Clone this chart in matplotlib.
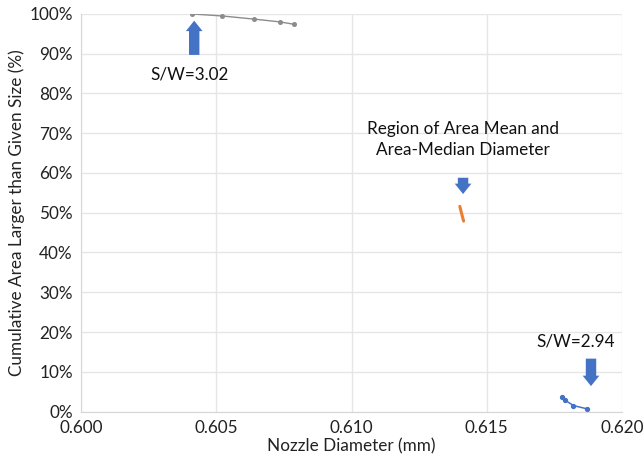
import matplotlib
matplotlib.use("Agg")
import matplotlib.pyplot as plt
from matplotlib.ticker import FuncFormatter

plt.rcParams['font.family'] = ['Lato', 'DejaVu Sans']

# Data
sw302_d = [0.6041, 0.6052, 0.6064, 0.60735, 0.60787]
sw302_c = [100.0, 99.5, 98.7, 98.0, 97.4]

mid_d = [0.61400, 0.61407, 0.61414]
mid_c = [51.6, 49.7, 47.9]

sw294_d = [0.61777, 0.61790, 0.61820, 0.61869]
sw294_c = [3.6, 2.8, 1.5, 0.7]

x_ticks = [0.600, 0.605, 0.610, 0.615, 0.620]
y_ticks = [0, 10, 20, 30, 40, 50, 60, 70, 80, 90, 100]

FS = 12.3

fig = plt.figure(figsize=(6.44, 4.65), dpi=100)
ax = fig.add_axes([0.126, 0.115, 0.840, 0.855])

ax.plot(sw302_d, sw302_c, color='#8c8c8c', lw=1.0, marker='o', ms=2.6)
ax.plot(mid_d, mid_c, color='#ED7D31', lw=2.2, solid_capstyle='round')
ax.plot(sw294_d, sw294_c, color='#4472C4', lw=1.1, marker='o', ms=2.8)

ax.set_xlim(0.600, 0.620)
ax.set_ylim(0, 100)
ax.set_xticks(x_ticks)
ax.set_yticks(y_ticks)
ax.xaxis.set_major_formatter(FuncFormatter(lambda v, p: f"{v:.3f}"))
ax.yaxis.set_major_formatter(FuncFormatter(lambda v, p: f"{v:.0f}%"))
ax.grid(True, color='#e6e6e6', lw=1.0)
ax.set_axisbelow(True)
for s in ['top', 'right']:
    ax.spines[s].set_visible(False)
for s in ['left', 'bottom']:
    ax.spines[s].set_color('#d6d6d6')
ax.tick_params(length=0, labelsize=FS, colors='#222222', pad=6)

ax.set_xlabel('Nozzle Diameter (mm)', fontsize=FS, color='#222222', labelpad=2)
ax.set_ylabel('Cumulative Area Larger than Given Size (%)', fontsize=FS,
              color='#222222', labelpad=3)

arrow_color = '#4472C4'
astyle = 'simple,head_width=0.8,head_length=0.5,tail_width=0.5'

# Arrow up to S/W=3.02
ax.annotate('', xy=(0.60418, 99.0), xytext=(0.60418, 89.0),
            arrowprops=dict(arrowstyle=astyle, color=arrow_color, lw=0,
                            mutation_scale=15))
ax.text(0.6040, 84.7, 'S/W=3.02', ha='center', va='center', fontsize=FS,
        color='#111111')

# Arrow down to region of mean
ax.annotate('', xy=(0.61412, 54.0), xytext=(0.61412, 59.5),
            arrowprops=dict(arrowstyle=astyle, color=arrow_color, lw=0,
                            mutation_scale=15))
ax.text(0.61412, 68.5, 'Region of Area Mean and\nArea-Median Diameter',
        ha='center', va='center', fontsize=FS, color='#111111',
        linespacing=1.4)

# Arrow down to S/W=2.94
ax.annotate('', xy=(0.61885, 5.7), xytext=(0.61885, 14.0),
            arrowprops=dict(arrowstyle=astyle, color=arrow_color, lw=0,
                            mutation_scale=15))
ax.text(0.6183, 17.7, 'S/W=2.94', ha='center', va='center', fontsize=FS,
        color='#111111')

fig.savefig('out.png', dpi=100, facecolor='white')
